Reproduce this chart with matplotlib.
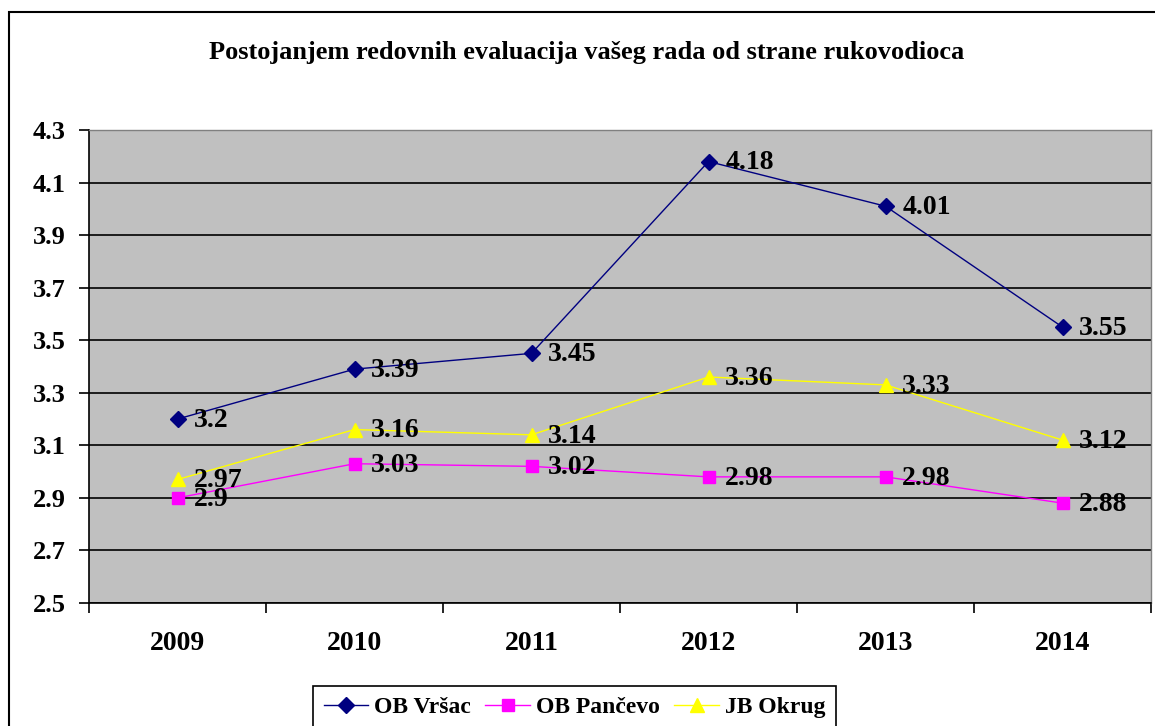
import numpy as np
import matplotlib
matplotlib.use('Agg')
from matplotlib import pyplot as plt
from matplotlib.patches import Rectangle

years = ['2009', '2010', '2011', '2012', '2013', '2014']
vrsac = [3.2, 3.39, 3.45, 4.18, 4.01, 3.55]
pancevo = [2.9, 3.03, 3.02, 2.98, 2.98, 2.88]
okrug = [2.97, 3.16, 3.14, 3.36, 3.33, 3.12]
yticks = [2.5, 2.7, 2.9, 3.1, 3.3, 3.5, 3.7, 3.9, 4.1, 4.3]

plt.rcParams['font.family'] = ['Liberation Serif', 'DejaVu Serif']
plt.rcParams['font.weight'] = 'bold'

fig = plt.figure(figsize=(11.55, 7.26), dpi=100)
ax = fig.add_axes([89/1155, 1-603/726, (1151-89)/1155, (603-130)/726])
ax.set_facecolor('#c0c0c0')

x = np.arange(len(years))
series = [
    (vrsac, 'OB Vršac', '#000080', 'D', 8),
    (pancevo, 'OB Pančevo', '#ff00ff', 's', 9),
    (okrug, 'JB Okrug', '#ffff00', '^', 10),
]
for vals, name, col, mk, ms in series:
    ax.plot(x, vals, color=col, lw=1.0, marker=mk, markersize=ms,
            markerfacecolor=col, markeredgecolor=col, label=name, zorder=3)
    for xi, v in zip(x, vals):
        ax.annotate('%g' % v, (xi, v), xytext=(12, -1), textcoords='offset points',
                    ha='left', va='center', fontsize=20, fontweight='bold', zorder=4)

ax.set_xlim(-0.5, 5.5)
ax.set_ylim(2.5, 4.3)
ax.set_yticks(yticks)
ax.set_yticklabels(['%g' % t for t in yticks])
ax.yaxis.grid(True, color='black', lw=1.2)
ax.set_axisbelow(True)

ax.set_xticks(x)
ax.set_xticklabels(years)
ax.set_xticks(np.arange(-0.5, 6, 1), minor=True)
ax.tick_params(axis='x', which='major', length=0, pad=20, labelsize=20)
ax.tick_params(axis='x', which='minor', length=7, width=1.2, direction='out')
ax.tick_params(axis='y', length=7, width=1.2, direction='out', pad=10, labelsize=19)

for s in ['left', 'bottom']:
    ax.spines[s].set_color('black')
    ax.spines[s].set_linewidth(1.2)
for s in ['top', 'right']:
    ax.spines[s].set_color('#808080')
    ax.spines[s].set_linewidth(1.0)

fig.text(587/1155, 1-52/726, 'Postojanjem redovnih evaluacija vašeg rada od strane rukovodioca',
         ha='center', va='center', fontsize=19, fontweight='bold')

# outer chart border
fig.patches.append(Rectangle((9/1155, -0.1), 1.2, 1.1 - 12/726, transform=fig.transFigure,
                             fill=False, edgecolor='black', lw=1.5, clip_on=False))

leg = fig.legend(loc='upper left', bbox_to_anchor=(313/1155, 1-686/726), ncol=3,
                 frameon=True, fancybox=False, edgecolor='black', framealpha=1,
                 prop={'size': 17, 'weight': 'bold'}, handlelength=1.9,
                 columnspacing=0.6, handletextpad=0.25, borderpad=0.45, borderaxespad=0)
leg.get_frame().set_linewidth(1.2)

fig.savefig('out.png', dpi=100)
